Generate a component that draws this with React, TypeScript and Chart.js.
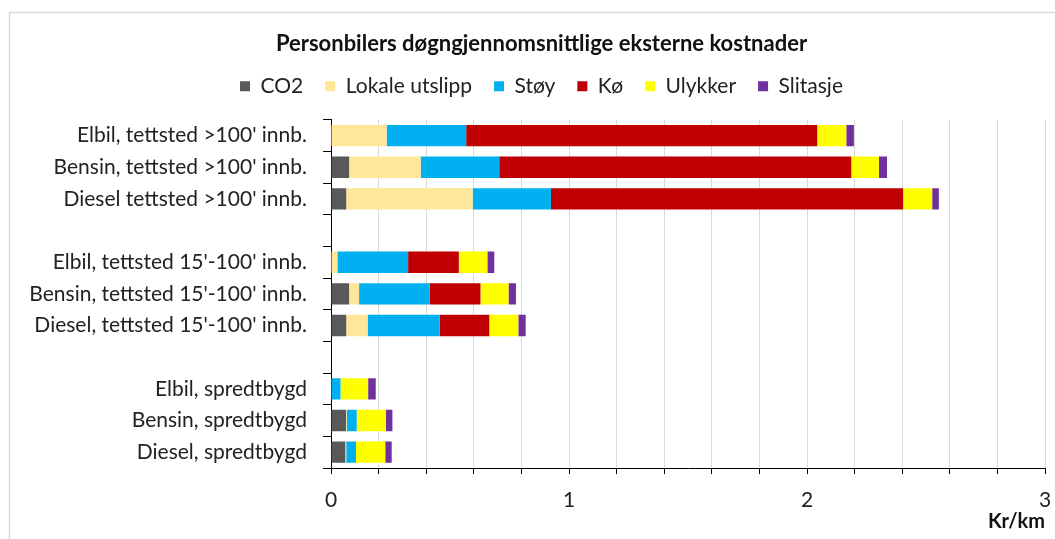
import React, { useEffect, useRef } from "react";
import { Chart, registerables } from "chart.js";

Chart.register(...registerables);

const categories = [
  "Elbil, tettsted >100' innb.",
  "Bensin, tettsted >100' innb.",
  "Diesel tettsted >100' innb.",
  "",
  "Elbil, tettsted 15'-100' innb.",
  "Bensin, tettsted 15'-100' innb.",
  "Diesel, tettsted 15'-100' innb.",
  "",
  "Elbil, spredtbygd",
  "Bensin, spredtbygd",
  "Diesel, spredtbygd",
];

const co2 = [0, 0.076, 0.064, null, 0, 0.076, 0.064, null, 0, 0.063, 0.06];
const lokaleUtslipp = [0.234, 0.301, 0.531, null, 0.027, 0.042, 0.09, null, 0.002, 0.003, 0.004];
const stoy = [0.334, 0.33, 0.329, null, 0.297, 0.297, 0.303, null, 0.038, 0.042, 0.041];
const ko = [1.475, 1.479, 1.48, null, 0.213, 0.213, 0.208, null, 0, 0, 0];
const ulykker = [0.122, 0.116, 0.122, null, 0.12, 0.118, 0.122, null, 0.116, 0.123, 0.123];
const slitasje = [0.032, 0.034, 0.028, null, 0.029, 0.031, 0.031, null, 0.032, 0.027, 0.027];

const seriesNames = ["CO2", "Lokale utslipp", "Støy", "Kø", "Ulykker", "Slitasje"];
const seriesColors = ["#595959", "#FFE699", "#00B0F0", "#C00000", "#FFFF00", "#7030A0"];

const xMin = 0;
const xMax = 3;
const xStep = 0.2;
const title = "Personbilers døgngjennomsnittlige eksterne kostnader";
const xTitle = "Kr/km";

const FONT = "Lato, 'Liberation Sans', sans-serif";

export default function App() {
  const ref = useRef<HTMLCanvasElement | null>(null);

  useEffect(() => {
    const canvas = ref.current;
    if (!canvas) return;
    const values = [co2, lokaleUtslipp, stoy, ko, ulykker, slitasje];

    const framePlugin = {
      id: "frame",
      beforeDraw(chart: any) {
        const ctx = chart.ctx;
        ctx.save();
        ctx.fillStyle = "#ffffff";
        ctx.fillRect(0, 0, chart.width, chart.height);
        ctx.strokeStyle = "#d9d9d9";
        ctx.lineWidth = 1.5;
        ctx.strokeRect(9.5, 12.5, chart.width + 100, chart.height + 100);
        ctx.restore();
      },
    };

    const layoutTweaks = {
      id: "layoutTweaks",
      beforeLayout(chart: any) {
        const lg = chart.legend;
        if (lg && !lg.__patched) {
          const orig = lg.fit;
          lg.fit = function (this: any) {
            orig.call(this);
            this.height += 13;
          };
          lg.__patched = true;
        }
      },
      afterLayout(chart: any) {
        // header is centred over the frame (which starts at x≈9), not the canvas
        if (chart.titleBlock) chart.titleBlock.left += 38;
        if (chart.legend) chart.legend.left += 38;
      },
    };

    const chart = new Chart(canvas, {
      type: "bar",
      data: {
        labels: categories,
        datasets: seriesNames.map((name, i) => ({
          label: name,
          data: values[i],
          backgroundColor: seriesColors[i],
          borderWidth: 0,
          barPercentage: 0.675,
          categoryPercentage: 1,
        })),
      },
      options: {
        indexAxis: "y",
        responsive: false,
        animation: false,
        maintainAspectRatio: false,
        layout: { padding: { top: 34, right: 10, left: 0, bottom: 0 } },
        plugins: {
          title: {
            display: true,
            text: title,
            color: "#111",
            font: { family: FONT, size: 22, weight: "bold", lineHeight: 0.9 },
            padding: { top: 0, bottom: 0 },
          },
          legend: {
            display: true,
            position: "top",
            labels: {
              color: "#222",
              font: { family: FONT, size: 21 },
              boxWidth: 10,
              boxHeight: 10,
              padding: 22,
            },
          },
          tooltip: { enabled: false },
        },
        scales: {
          x: {
            stacked: true,
            min: xMin,
            max: xMax,
            afterFit(scale: any) {
              scale.height = 71;
              scale.paddingLeft = 0;
              scale.paddingRight = 0;
            },
            ticks: {
              stepSize: xStep,
              autoSkip: false,
              maxRotation: 0,
              color: "#222",
              font: { family: FONT, size: 21 },
              padding: 14,
              callback: (v: any) => {
                const n = Number(v);
                return Math.abs(n - Math.round(n)) < 1e-6 ? String(Math.round(n)) : "";
              },
            },
            grid: {
              color: "#d9d9d9",
              lineWidth: 1,
              tickColor: "#000",
              tickLength: 6,
            },
            border: { color: "#000", width: 1 },
            title: {
              display: true,
              text: xTitle,
              align: "end",
              color: "#111",
              font: { family: FONT, size: 20, weight: "bold" },
              padding: { top: 0, bottom: 5 },
            },
          },
          y: {
            stacked: true,
            afterFit(scale: any) {
              scale.width = 331;
            },
            ticks: {
              autoSkip: false,
              color: "#222",
              font: { family: FONT, size: 21 },
              padding: 16,
            },
            grid: {
              offset: true,
              drawOnChartArea: false,
              tickColor: "#000",
              tickLength: 8,
            },
            border: { color: "#000", width: 1 },
          },
        },
      },
      plugins: [framePlugin, layoutTweaks],
    } as any);

    return () => chart.destroy();
  }, []);

  return (
    <div style={{ position: "absolute", left: 0, top: 0, width: 1055, height: 539 }}>
      <canvas ref={ref} width={1055} height={539} style={{ width: 1055, height: 539, display: "block" }} />
    </div>
  );
}
